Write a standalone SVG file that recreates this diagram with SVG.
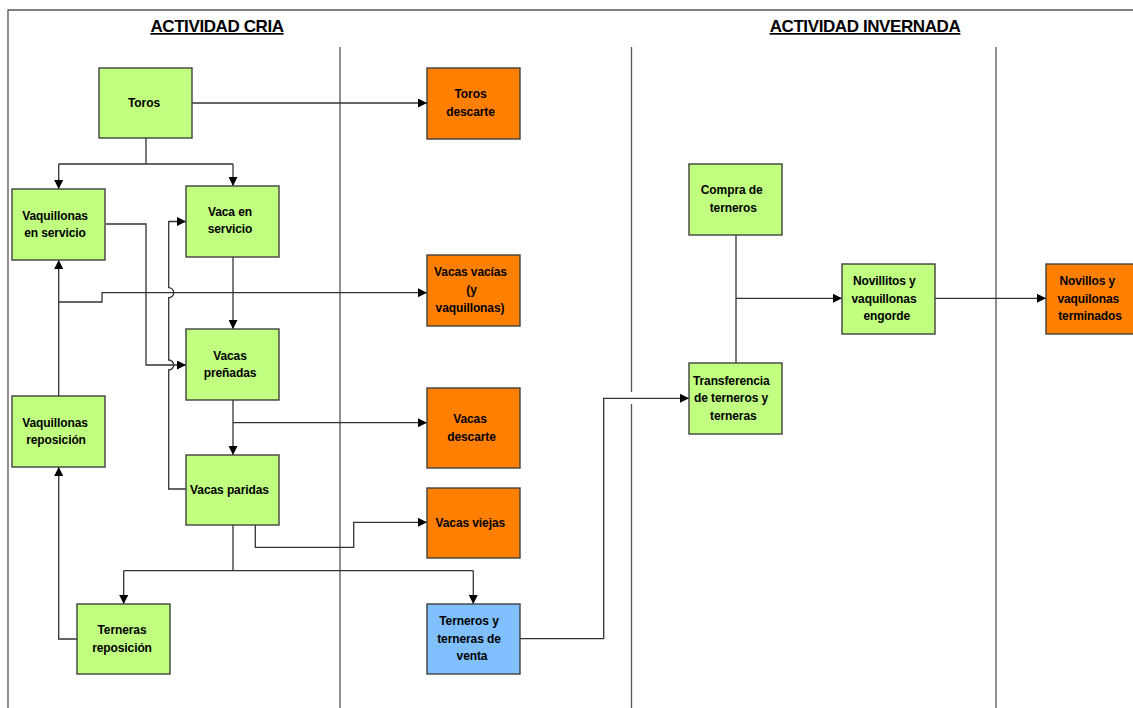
<svg xmlns="http://www.w3.org/2000/svg" width="1133" height="708" viewBox="0 0 1133 708">
<style>
.t{font-family:"Liberation Sans",Arial,sans-serif;font-weight:bold;font-size:12px;fill:#000;text-anchor:middle;letter-spacing:-0.1px}
.h{font-family:"Liberation Sans",Arial,sans-serif;font-weight:bold;font-size:17px;fill:#000;text-anchor:middle;letter-spacing:-0.4px;text-decoration:underline}
.g{fill:#C0FF80;stroke:#404040;stroke-width:1.4}
.o{fill:#FF8000;stroke:#404040;stroke-width:1.4}
.b{fill:#80C0FF;stroke:#404040;stroke-width:1.4}
.c{fill:none;stroke:#333;stroke-width:1.3}
.a{marker-end:url(#ah)}
.sep{stroke:#555;stroke-width:1.3;fill:none}
</style>
<defs>
<marker id="ah" viewBox="0 0 10 10" refX="10" refY="5" markerWidth="9" markerHeight="9" markerUnits="userSpaceOnUse" orient="auto">
<path d="M0,0 L10,5 L0,10 Z" fill="#000"/>
</marker>
</defs>
<rect width="1133" height="708" fill="#fff"/>
<g id="frame">
<path class="sep" d="M8,708 L8,10 L1133,10" stroke="#111"/>
<path class="sep" d="M340,47 L340,708"/>
<path class="sep" d="M631.5,47 L631.5,392 M631.5,404 L631.5,708"/>
<path class="sep" d="M996,47 L996,708"/>
</g>
<g id="titles">
<text class="h" x="217" y="32">ACTIVIDAD CRIA</text>
<text class="h" x="865" y="32">ACTIVIDAD INVERNADA</text>
</g>
<g id="connectors">
<path class="c a" d="M192,103 L427,103"/>
<path class="c" d="M146,138 L146,164 M58.7,164 L233,164"/>
<path class="c a" d="M58.7,164 L58.7,189"/>
<path class="c a" d="M233,164 L233,186"/>
<path class="c a" d="M106,224 L146,224 L146,365 L186,365"/>
<path class="c a" d="M186,489 L168.7,489 L168.7,370 A5,5 0 0 0 168.7,360 L168.7,297.7 A5,5 0 0 0 168.7,287.7 L168.7,221.5 L186,221.5"/>
<path class="c a" d="M58.7,396 L58.7,260"/>
<path class="c a" d="M58.7,302 L102,302 L102,292.7 L427,292.7"/>
<path class="c a" d="M233,257 L233,329"/>
<path class="c a" d="M233,400 L233,455"/>
<path class="c a" d="M233,422.7 L427,422.7"/>
<path class="c a" d="M255.3,525 L255.3,547.3 L353.7,547.3 L353.7,522.3 L427,522.3"/>
<path class="c" d="M233,525 L233,570.7 M123.7,570.7 L473.3,570.7"/>
<path class="c a" d="M123.7,570.7 L123.7,604"/>
<path class="c a" d="M473.3,570.7 L473.3,604"/>
<path class="c a" d="M77,639 L58.7,639 L58.7,467"/>
<path class="c a" d="M520,638.7 L603.7,638.7 L603.7,398.3 L689,398.3"/>
<path class="c" d="M736,235 L736,363"/>
<path class="c a" d="M736,298.3 L842,298.3"/>
<path class="c a" d="M935,298.3 L1046,298.3"/>
</g>
<g id="n-toros"><rect class="g" x="99" y="68" width="93" height="70"/><text class="t" x="144" y="107">Toros</text></g>
<g id="n-vaq-servicio"><rect class="g" x="12" y="189" width="93" height="71"/><text class="t" x="55" y="220">Vaquillonas</text><text class="t" x="55" y="237">en servicio</text></g>
<g id="n-vaca-servicio"><rect class="g" x="186" y="186" width="93" height="71"/><text class="t" x="230" y="216">Vaca en</text><text class="t" x="230" y="233">servicio</text></g>
<g id="n-vacas-prenadas"><rect class="g" x="186" y="329" width="93" height="71"/><text class="t" x="230" y="360">Vacas</text><text class="t" x="230" y="377">preñadas</text></g>
<g id="n-vaq-reposicion"><rect class="g" x="12" y="396" width="93" height="71"/><text class="t" x="55" y="427">Vaquillonas</text><text class="t" x="56" y="444">reposición</text></g>
<g id="n-vacas-paridas"><rect class="g" x="186" y="455" width="93" height="70"/><text class="t" x="229.5" y="494">Vacas paridas</text></g>
<g id="n-terneras-reposicion"><rect class="g" x="77" y="604" width="93" height="70"/><text class="t" x="122" y="634">Terneras</text><text class="t" x="122" y="652">reposición</text></g>
<g id="n-toros-descarte"><rect class="o" x="427" y="68" width="93" height="71"/><text class="t" x="470.5" y="98">Toros</text><text class="t" x="470.5" y="116">descarte</text></g>
<g id="n-vacas-vacias"><rect class="o" x="427" y="255" width="93" height="71"/><text class="t" x="470.5" y="276">Vacas vacías</text><text class="t" x="471.5" y="294">(y</text><text class="t" x="470" y="312">vaquillonas)</text></g>
<g id="n-vacas-descarte"><rect class="o" x="427" y="388" width="93" height="80"/><text class="t" x="470" y="422.5">Vacas</text><text class="t" x="471.5" y="440.5">descarte</text></g>
<g id="n-vacas-viejas"><rect class="o" x="427" y="488" width="93" height="70"/><text class="t" x="470.3" y="526.5">Vacas viejas</text></g>
<g id="n-terneros-venta"><rect class="b" x="427" y="604" width="93" height="70"/><text class="t" x="469" y="625">Terneros y</text><text class="t" x="469" y="643">terneras de</text><text class="t" x="472" y="660">venta</text></g>
<g id="n-compra"><rect class="g" x="689" y="164" width="93" height="71"/><text class="t" x="731.7" y="193.5">Compra de</text><text class="t" x="733.3" y="211.7">terneros</text></g>
<g id="n-transferencia"><rect class="g" x="689" y="363" width="93" height="71"/><text class="t" x="731.3" y="384.5">Transferencia</text><text class="t" x="731" y="402">de terneros y</text><text class="t" x="733.3" y="419.5">terneras</text></g>
<g id="n-novillitos"><rect class="g" x="842" y="264" width="93" height="70"/><text class="t" x="884.3" y="284.5">Novillitos y</text><text class="t" x="884" y="302.5">vaquillonas</text><text class="t" x="886.7" y="320">engorde</text></g>
<g id="n-novillos"><rect class="o" x="1046" y="264" width="93" height="70"/><text class="t" x="1087.3" y="284.5">Novillos y</text><text class="t" x="1088.3" y="302.5">vaquilonas</text><text class="t" x="1090" y="320">terminados</text></g>
</svg>
